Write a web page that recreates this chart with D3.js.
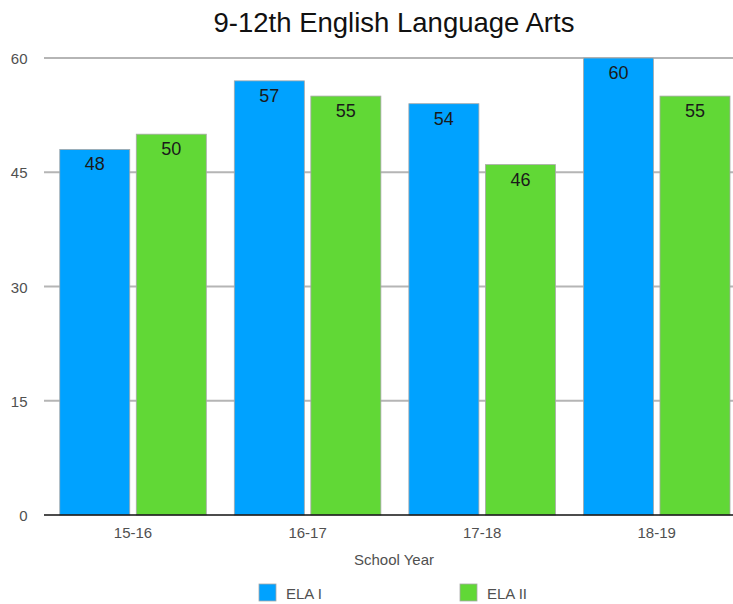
<!DOCTYPE html>
<html>
<head>
<meta charset="utf-8">
<script src="https://cdn.jsdelivr.net/npm/d3@7"></script>
<style>
  html, body { margin: 0; padding: 0; background: #fff; }
  svg { display: block; font-family: "Liberation Sans", Arial, Helvetica, sans-serif; }
</style>
</head>
<body>
<svg id="chart" width="733" height="604"></svg>
<script>
// School years and scores for each course
const years = ["15-16", "16-17", "17-18", "18-19"];
const seriesNames = ["ELA I", "ELA II"];
const elaI = [48, 57, 54, 60];
const elaII = [50, 55, 46, 55];
const yTicks = [0, 15, 30, 45, 60];
const colors = ["#00A2FF", "#61D836"];

(function () {
const svg = d3.select("#chart");
const W = 733;
const plotLeft = 45.75, plotRight = 744, plotTop = 58, plotBottom = 515;
const labelColor = "#505050";

const x = d3.scaleBand().domain(years).range([plotLeft, plotRight]).paddingInner(0).paddingOuter(0);
const inner = d3.scaleBand().domain(seriesNames).range([14, x.bandwidth() - 14]).paddingInner(0.085);
const y = d3.scaleLinear().domain([0, 60]).range([plotBottom, plotTop]);

// Title
svg.append("text")
  .attr("x", 394).attr("y", 32)
  .attr("text-anchor", "middle")
  .attr("font-size", 27.5)
  .attr("fill", "#111")
  .text("9-12th English Language Arts");

// Horizontal gridlines
svg.append("g").selectAll("line")
  .data(yTicks.filter(d => d > 0))
  .join("line")
  .attr("x1", 44).attr("x2", W)
  .attr("y1", d => y(d)).attr("y2", d => y(d))
  .attr("stroke", "#b5b5b5").attr("stroke-width", 2);

// Y tick labels
svg.append("g").selectAll("text")
  .data(yTicks)
  .join("text")
  .attr("x", 27.5).attr("y", d => y(d) + 6)
  .attr("text-anchor", "end")
  .attr("font-size", 15)
  .attr("fill", labelColor)
  .text(d => d);

// Bars
const rows = years.map((yr, i) => ({ year: yr, values: [elaI[i], elaII[i]] }));
const groups = svg.append("g").selectAll("g")
  .data(rows)
  .join("g")
  .attr("transform", d => `translate(${x(d.year)},0)`);

groups.selectAll("rect")
  .data(d => d.values.map((v, j) => ({ name: seriesNames[j], value: v, j })))
  .join("rect")
  .attr("x", d => inner(d.name))
  .attr("width", inner.bandwidth())
  .attr("y", d => y(d.value))
  .attr("height", d => y(0) - y(d.value))
  .attr("fill", d => colors[d.j])
  .attr("stroke", "#a8a8a8")
  .attr("stroke-width", 0.8);

// Value labels inside the top of each bar
groups.selectAll("text")
  .data(d => d.values.map((v, j) => ({ name: seriesNames[j], value: v })))
  .join("text")
  .attr("x", d => inner(d.name) + inner.bandwidth() / 2)
  .attr("y", d => y(d.value) + 21)
  .attr("text-anchor", "middle")
  .attr("font-size", 18)
  .attr("fill", "#1a1a1a")
  .text(d => d.value);

// Baseline axis
svg.append("line")
  .attr("x1", 44).attr("x2", W)
  .attr("y1", y(0)).attr("y2", y(0))
  .attr("stroke", "#111").attr("stroke-width", 1.5);

// X tick labels
svg.append("g").selectAll("text")
  .data(years)
  .join("text")
  .attr("x", d => x(d) + x.bandwidth() / 2)
  .attr("y", 538)
  .attr("text-anchor", "middle")
  .attr("font-size", 15)
  .attr("fill", labelColor)
  .text(d => d);

// Axis title
svg.append("text")
  .attr("x", 394).attr("y", 565)
  .attr("text-anchor", "middle")
  .attr("font-size", 15)
  .attr("fill", labelColor)
  .text("School Year");

// Legend
const legendX = [259, 460];
const legend = svg.append("g").selectAll("g")
  .data(seriesNames)
  .join("g")
  .attr("transform", (d, i) => `translate(${legendX[i]},584)`);
legend.append("rect")
  .attr("width", 17).attr("height", 17)
  .attr("fill", (d, i) => colors[i])
  .attr("stroke", "#a8a8a8").attr("stroke-width", 0.8);
legend.append("text")
  .attr("x", 27).attr("y", 15)
  .attr("font-size", 15)
  .attr("fill", labelColor)
  .text(d => d);
})();
</script>
</body>
</html>
